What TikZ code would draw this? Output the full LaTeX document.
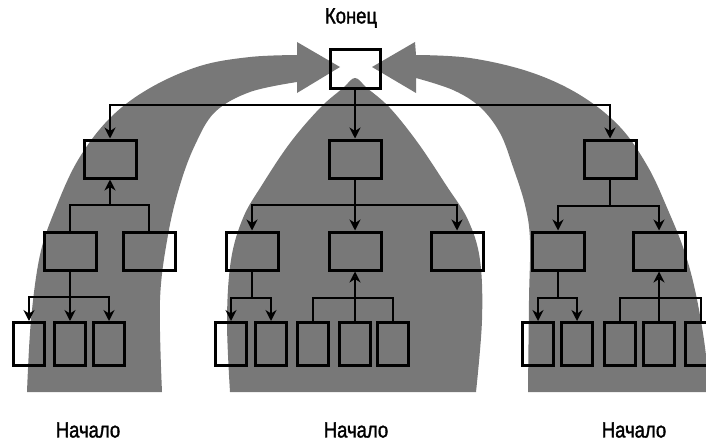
\documentclass[tikz,border=0pt]{standalone}
\usepackage{fontspec}
\setmainfont{Liberation Sans}[FakeStretch=0.84,FakeBold=1.5]
\usetikzlibrary{arrows.meta}
\begin{document}
\begin{tikzpicture}[x=1pt,y=-1pt,
  shadefill/.style={fill=black!53},
  box/.style={draw, line width=3pt, minimum width=52pt, minimum height=38pt, inner sep=0pt},
  leaf/.style={box, minimum width=31pt, minimum height=43pt},
  ln/.style={line width=2.3pt},
  dn/.style={ln, -{Stealth[length=11pt,width=11pt]}},
  upa/.style={ln, -{Stealth[open,length=11pt,width=11pt]}},
  lbl/.style={font=\fontsize{22}{25}\selectfont, inner sep=0pt}]
\useasboundingbox (0,0) rectangle (706,444);
% gray shapes
\fill[shadefill] plot[smooth,tension=0.6] coordinates {(27,392)(31,320)(40,255)(55,210)(78,160)(110,118)(150,88)(200,66)(250,57)(297,55)} -- (297,42) -- (340,67) -- (297,93) -- plot[smooth,tension=0.6] coordinates {(297,82)(250,92)(215,112)(195,145)(180,185)(168,235)(160,300)(162,392)} -- cycle;
\fill[shadefill] plot[smooth,tension=0.6] coordinates {(710,392)(704,340)(695,290)(684,250)(668,210)(648,167)(620,127)(580,95)(530,72)(470,58)(416,55)} -- (415,42) -- (372,67) -- (416,93) -- plot[smooth,tension=0.6] coordinates {(416,78)(453,90)(480,107)(500,133)(513,167)(525,205)(530,240)(529,300)(528,392)} -- cycle;
\fill[shadefill] plot[smooth,tension=0.6] coordinates {(230,392)(227,320)(231,260)(243,218)(262,185)(290,143)(320,108)(343,88)(355,78)(367,88)(390,108)(418,143)(446,185)(468,220)(480,260)(482,320)(476,392)} -- cycle;
% nodes
\node[box, minimum width=50pt] (T) at (355,69) {};
\node[box] (A) at (110,159) {};
\node[box] (B) at (355,159) {};
\node[box] (C) at (610,159) {};
\node[box] (A1) at (70,251) {};
\node[box] (A2) at (149,251) {};
\node[box] (B1) at (252,251) {};
\node[box] (B2) at (355,251) {};
\node[box] (B3) at (457,251) {};
\node[box] (C1) at (558,251) {};
\node[box] (C2) at (659,251) {};
\node[leaf] (A11) at (29,344) {};
\node[leaf] (A12) at (70,344) {};
\node[leaf] (A13) at (109,344) {};
\node[leaf] (B11) at (231,344) {};
\node[leaf] (B12) at (271,344) {};
\node[leaf] (B21) at (313,344) {};
\node[leaf] (B22) at (355,344) {};
\node[leaf] (B23) at (393,344) {};
\node[leaf] (C11) at (538,344) {};
\node[leaf] (C12) at (577,344) {};
\node[leaf] (C21) at (620,344) {};
\node[leaf] (C22) at (659,344) {};
\node[leaf] (C23) at (701,344) {};
% bus coordinates
\coordinate (tb) at (355,105);
\coordinate (lb) at (110,205);
\coordinate (a1b) at (70,297);
\coordinate (mb) at (355,205);
\coordinate (b1b) at (252,298);
\coordinate (b2b) at (355,298);
\coordinate (rb) at (610,206);
\coordinate (c1b) at (558,298);
\coordinate (c2b) at (659,298);
% connectors
\draw[dn] (T.south) -- (B.north);
\draw[dn] (tb) -| (A.north);
\draw[dn] (tb) -| (C.north);
\draw[upa] (lb) -- (A.south);
\draw[ln] (lb) -| (A1.north);
\draw[ln] (lb) -| (A2.north);
\draw[dn] (A1.south) -- (A12.north);
\draw[dn] (a1b) -| (A11.north);
\draw[dn] (a1b) -| (A13.north);
\draw[dn] (B.south) -- (B2.north);
\draw[dn] (mb) -| (B1.north);
\draw[dn] (mb) -| (B3.north);
\draw[ln] (B1.south) -- (b1b);
\draw[dn] (b1b) -| (B11.north);
\draw[dn] (b1b) -| (B12.north);
\draw[upa] (b2b) -- (B2.south);
\draw[ln] (b2b) -| (B21.north);
\draw[ln] (b2b) -- (B22.north);
\draw[ln] (b2b) -| (B23.north);
\draw[ln] (C.south) -- (rb);
\draw[dn] (rb) -| (C1.north);
\draw[dn] (rb) -| (C2.north);
\draw[ln] (C1.south) -- (c1b);
\draw[dn] (c1b) -| (C11.north);
\draw[dn] (c1b) -| (C12.north);
\draw[upa] (c2b) -- (C2.south);
\draw[ln] (c2b) -| (C21.north);
\draw[ln] (c2b) -- (C22.north);
\draw[ln] (c2b) -| (C23.north);
% labels
\node[lbl] (end) at (351,18) {Конец};
\node[lbl] (s1) at (88,430) {Начало};
\node[lbl] (s2) at (356,430) {Начало};
\node[lbl] (s3) at (634,430) {Начало};
\end{tikzpicture}
\end{document}
